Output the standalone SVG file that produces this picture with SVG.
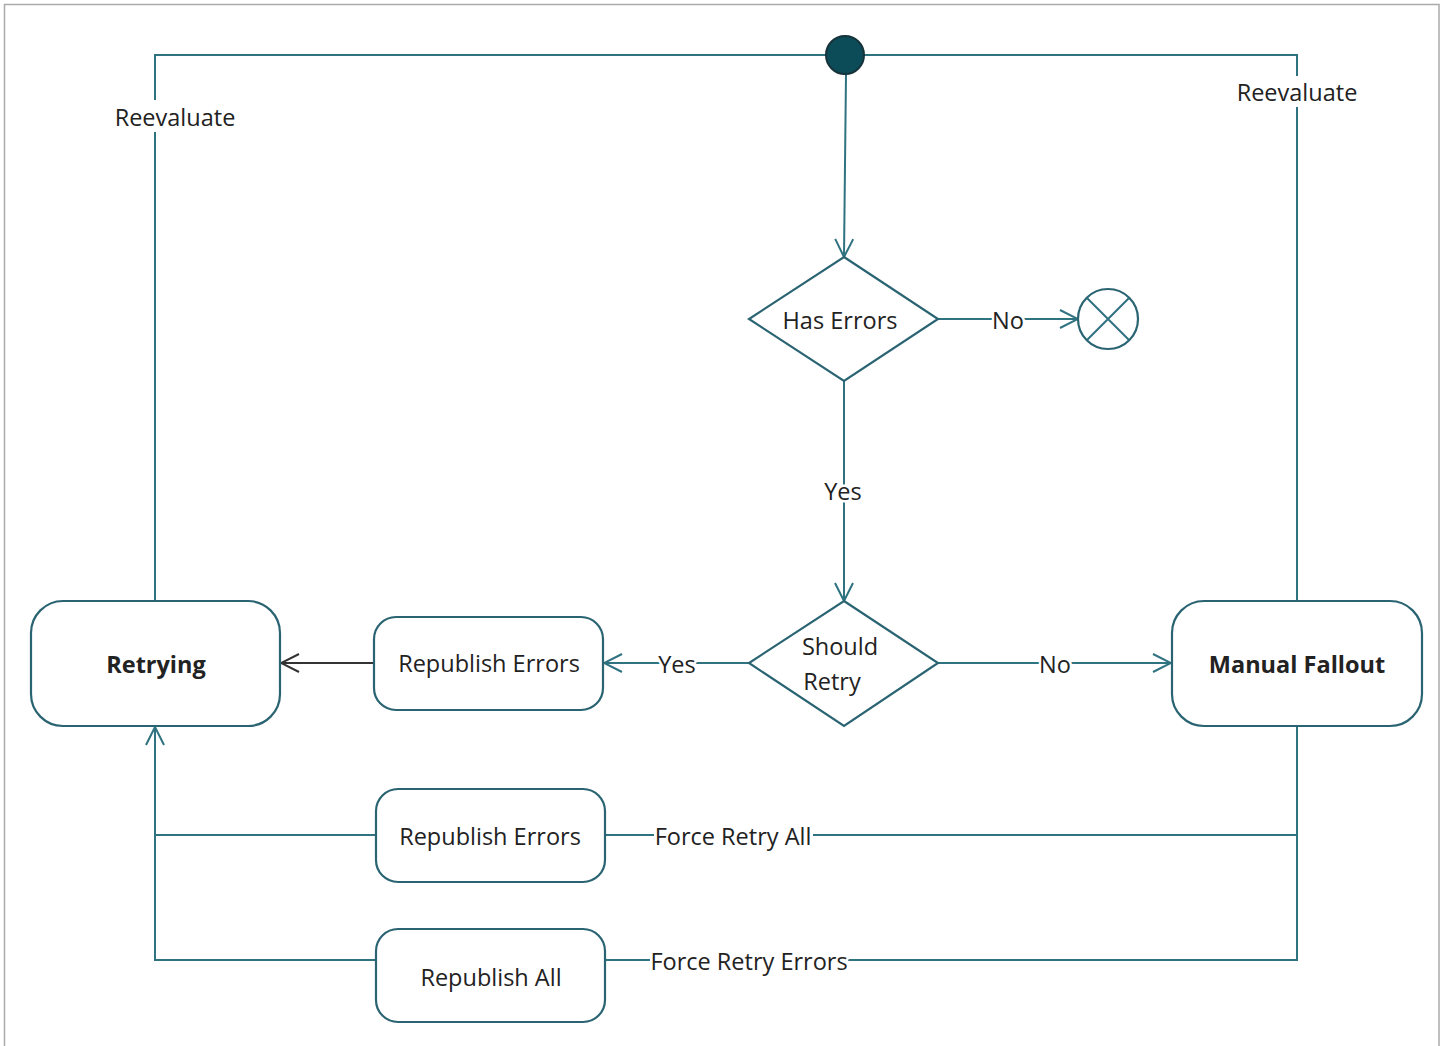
<svg xmlns="http://www.w3.org/2000/svg" width="1447" height="1046" viewBox="0 0 1447 1046">
<defs>
<style>
.ln{fill:none;stroke:#2f7280;stroke-width:2}
.dk{fill:none;stroke:#333;stroke-width:2}
.nd{fill:#fff;stroke:#2a6472;stroke-width:2.2}
.t{font-family:"Open Sans","Noto Sans",sans-serif;font-size:23.5px;fill:#222;text-anchor:middle;dominant-baseline:central}
.b{font-weight:bold}
.lb{font-family:"Open Sans","Noto Sans",sans-serif;font-size:23.5px;fill:#222;text-anchor:middle;dominant-baseline:central;stroke:#fff;stroke-width:5;paint-order:stroke;stroke-linejoin:round}
.bg{fill:#fff}
</style>
<marker id="a" viewBox="0 0 20 20" refX="20" refY="10" markerWidth="20" markerHeight="20" markerUnits="userSpaceOnUse" orient="auto">
<path d="M2,1 L20,10 L2,19" fill="none" stroke="#2f7280" stroke-width="2"/>
</marker>
<marker id="ad" viewBox="0 0 20 20" refX="20" refY="10" markerWidth="20" markerHeight="20" markerUnits="userSpaceOnUse" orient="auto">
<path d="M2,1 L20,10 L2,19" fill="none" stroke="#333" stroke-width="2"/>
</marker>
</defs>
<rect x="0" y="0" width="1447" height="1046" fill="#fff"/>
<rect x="4.5" y="4.5" width="1434.5" height="1060" fill="none" stroke="#aaa" stroke-width="1.5"/>
<g id="connectors">
<path class="ln" d="M845,55 H155 V601"/>
<path class="ln" d="M845,55 H1297 V601"/>
<path class="ln" d="M846,74 L844,257" marker-end="url(#a)"/>
<path class="ln" d="M938,319 H1078" marker-end="url(#a)"/>
<path class="ln" d="M844,381 V601" marker-end="url(#a)"/>
<path class="ln" d="M938,663 H1171" marker-end="url(#a)"/>
<path class="ln" d="M749,663 H604" marker-end="url(#a)"/>
<path class="dk" d="M374,663 H281" marker-end="url(#ad)"/>
<path class="ln" d="M1297,726 V960 H605"/>
<path class="ln" d="M1297,835 H605"/>
<path class="ln" d="M376,835 H155"/>
<path class="ln" d="M376,960 H155 V727" marker-end="url(#a)"/>
<rect class="bg" x="110" y="100" width="130" height="32"/>
<text class="lb" x="175" y="117">Reevaluate</text>
<rect class="bg" x="1232" y="76" width="130" height="31"/>
<text class="lb" x="1297" y="92">Reevaluate</text>
<text class="lb" x="1008" y="320">No</text>
<text class="lb" x="843" y="491">Yes</text>
<text class="lb" x="1055" y="664">No</text>
<text class="lb" x="677" y="664">Yes</text>
<rect class="bg" x="654" y="824" width="159" height="24"/>
<text class="lb" x="733" y="836">Force Retry All</text>
<rect class="bg" x="650" y="949" width="198" height="24"/>
<text class="lb" x="749" y="961">Force Retry Errors</text>
</g>
<g id="start"><circle cx="845" cy="55" r="19" fill="#0b4c58" stroke="#16323a" stroke-width="2"/></g>
<g id="has-errors"><path class="nd" d="M844,257 L938,319 L844,381 L749,319 Z"/><text class="t" x="840" y="320">Has Errors</text></g>
<g id="end"><circle cx="1108" cy="319" r="30" class="nd"/><path d="M1087,298 L1129,340 M1129,298 L1087,340" class="ln" stroke="#2a6472"/></g>
<g id="should-retry"><path class="nd" d="M844,601 L938,663 L844,726 L749,663 Z"/><text class="t" x="840" y="646">Should</text><text class="t" x="832" y="681">Retry</text></g>
<g id="manual-fallout"><rect class="nd" x="1172" y="601" width="250" height="125" rx="32"/><text class="t b" x="1297" y="664">Manual Fallout</text></g>
<g id="republish-errors-1"><rect class="nd" x="374" y="617" width="229" height="93" rx="22"/><text class="t" x="489" y="663">Republish Errors</text></g>
<g id="retrying"><rect class="nd" x="31" y="601" width="249" height="125" rx="32"/><text class="t b" x="156" y="664">Retrying</text></g>
<g id="republish-errors-2"><rect class="nd" x="376" y="789" width="229" height="93" rx="22"/><text class="t" x="490" y="836">Republish Errors</text></g>
<g id="republish-all"><rect class="nd" x="376" y="929" width="229" height="93" rx="22"/><text class="t" x="491" y="977">Republish All</text></g>
</svg>
